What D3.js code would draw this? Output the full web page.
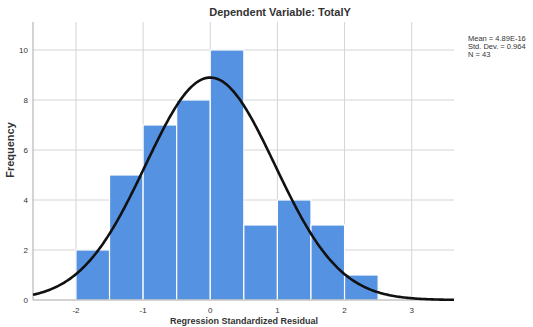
<!DOCTYPE html>
<html><head><meta charset="utf-8">
<script src="https://cdn.jsdelivr.net/npm/d3@7"></script>
<style>body{margin:0;background:#fff}svg{display:block}text{font-family:Arial,"Liberation Sans",sans-serif}</style>
</head><body>
<svg id="c" width="533" height="327"></svg>
<script>
const binStarts = [-2, -1.5, -1, -0.5, 0, 0.5, 1, 1.5, 2];
const binWidth = 0.5;
const counts = [2, 5, 7, 8, 10, 3, 4, 3, 1];
const xTicks = [-2, -1, 0, 1, 2, 3];
const yTicks = [0, 2, 4, 6, 8, 10];
const mean = 4.89e-16, sd = 0.964, n = 43;
const legendLines = ["Mean = 4.89E-16", "Std. Dev. = 0.964", "N = 43"];

const svg = d3.select("#c");
const L = 33, R = 454, T = 22, B = 300;
const x = d3.scaleLinear().domain([-2.64, 3.63]).range([L, R]);
const y = d3.scaleLinear().domain([0, 10]).range([B, 50]);

// grid
svg.append("g").selectAll("line").data(xTicks).join("line")
  .attr("x1", d => x(d)).attr("x2", d => x(d)).attr("y1", T).attr("y2", B)
  .attr("stroke", "#d4d4d4").attr("stroke-width", 1);
svg.append("g").selectAll("line").data(yTicks.filter(d => d > 0)).join("line")
  .attr("x1", L).attr("x2", R).attr("y1", d => y(d)).attr("y2", d => y(d))
  .attr("stroke", "#d4d4d4").attr("stroke-width", 1);

// bars
svg.append("g").selectAll("rect").data(binStarts).join("rect")
  .attr("x", d => x(d)).attr("width", d => x(d + binWidth) - x(d))
  .attr("y", (d, i) => y(counts[i])).attr("height", (d, i) => y(0) - y(counts[i]))
  .attr("fill", "#5592e2").attr("stroke", "#ffffff").attr("stroke-width", 1.2);

// axes
svg.append("line").attr("x1", L).attr("x2", L).attr("y1", T).attr("y2", B).attr("stroke", "#a8a8a8");
svg.append("line").attr("x1", L).attr("x2", R).attr("y1", B).attr("y2", B).attr("stroke", "#a8a8a8");

// normal curve
const pts = d3.range(0, 301).map(i => -2.64 + i * (3.63 + 2.64) / 300);
const pdf = v => n * binWidth / (sd * Math.sqrt(2 * Math.PI)) * Math.exp(-0.5 * ((v - mean) / sd) ** 2);
svg.append("path").datum(pts)
  .attr("d", d3.line().x(d => x(d)).y(d => y(pdf(d))))
  .attr("fill", "none").attr("stroke", "#111").attr("stroke-width", 2.6);

// tick labels
svg.append("g").selectAll("text").data(yTicks).join("text")
  .attr("x", 28).attr("y", d => y(d) + 3).attr("text-anchor", "end")
  .attr("font-size", 8).attr("fill", "#333").text(d => d);
svg.append("g").selectAll("text").data(xTicks).join("text")
  .attr("x", d => x(d)).attr("y", 313).attr("text-anchor", "middle")
  .attr("font-size", 8).attr("fill", "#333").text(d => d);

// title
svg.append("text").attr("x", 280).attr("y", 16).attr("text-anchor", "middle")
  .attr("font-size", 11).attr("font-weight", "bold").attr("fill", "#333").text("Dependent Variable: TotalY");
// y label
svg.append("text").attr("transform", "translate(14,150) rotate(-90)").attr("text-anchor", "middle")
  .attr("font-size", 11).attr("font-weight", "bold").attr("fill", "#333").text("Frequency");
// x label
svg.append("text").attr("x", 244).attr("y", 324).attr("text-anchor", "middle")
  .attr("font-size", 9).attr("font-weight", "bold").attr("fill", "#333").text("Regression Standardized Residual");

// legend
svg.append("g").selectAll("text").data(legendLines).join("text")
  .attr("x", 468).attr("y", (d, i) => 41 + i * 8)
  .attr("font-size", 7.5).attr("fill", "#333").text(d => d);
</script>
</body></html>
